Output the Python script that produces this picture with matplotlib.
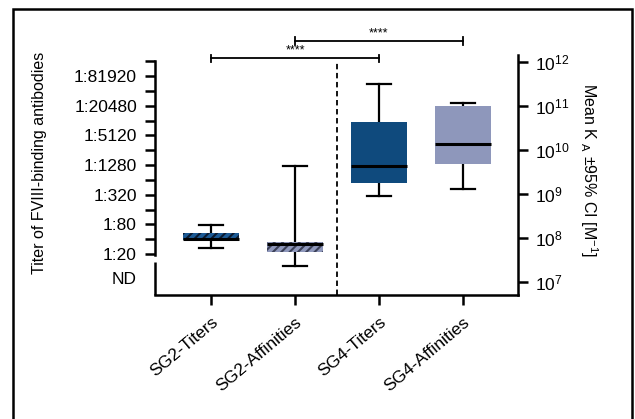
import matplotlib
matplotlib.use("Agg")
import matplotlib.pyplot as plt
from matplotlib import font_manager
from matplotlib.patches import Rectangle
from matplotlib.ticker import FixedLocator, NullFormatter

# ---- data ----
groups = ["SG2-Titers", "SG2-Affinities", "SG4-Titers", "SG4-Affinities"]

# titer boxes (reciprocal dilution), left axis
titer_pos = [0, 2]
titer_whislo = [27, 305]
titer_q1 = [38, 545]
titer_med = [40, 1220]
titer_q3 = [53, 9400]
titer_whishi = [78, 55600]

# affinity boxes (K_A, M^-1), right axis
aff_pos = [1, 3]
aff_whislo = [2.3e7, 1.3e9]
aff_q1 = [4.8e7, 4.8e9]
aff_med = [7.2e7, 1.34e10]
aff_q3 = [8.1e7, 9.8e10]
aff_whishi = [4.3e9, 1.12e11]

titer_ticks = [20, 80, 320, 1280, 5120, 20480, 81920]
titer_minor = [40, 160, 640, 2560, 10240, 40960, 163840]
nd_level = 6.5
ka_ticks = [1e7, 1e8, 1e9, 1e10, 1e11, 1e12]

brackets = [(0, 2, "****"), (1, 3, "****")]

fill_titer = ["#1c5a95", "#0f4a7d"]
hatch_titer = ["#0a1a30", None]
fill_aff = ["#8e97bb", "#8e97bb"]
hatch_aff = ["#3b4058", None]

# ---- fonts ----
names = {f.name for f in font_manager.fontManager.ttflist}
narrow = "Liberation Sans Narrow" if "Liberation Sans Narrow" in names else "Liberation Sans"
plt.rcParams["font.family"] = ["Liberation Sans", "DejaVu Sans"]
plt.rcParams["mathtext.fontset"] = "custom"
plt.rcParams["mathtext.rm"] = "Liberation Sans"
plt.rcParams["mathtext.it"] = "Liberation Sans"
plt.rcParams["hatch.linewidth"] = 1.5

fig = plt.figure(figsize=(6.35, 4.19), dpi=100)
ax = fig.add_axes([0.2441, 0.2959, 0.5716, 0.5728])
ax2 = ax.twinx()

# outer frame (open at the bottom)
fig.patches.append(Rectangle((0.0205, -0.1), 0.974, 1.0785, transform=fig.transFigure,
                             fill=False, edgecolor="black", lw=1.8, zorder=0))


def stats(pos, lo, q1, med, q3, hi):
    return [dict(whislo=lo[i], q1=q1[i], med=med[i], q3=q3[i], whishi=hi[i], fliers=[])
            for i in range(len(pos))]


def draw(axis, pos, st, fills, hatches):
    bp = axis.bxp(st, positions=pos, widths=0.66, patch_artist=True, showfliers=False,
                  capwidths=0.29,
                  medianprops=dict(color="black", lw=2.2),
                  whiskerprops=dict(color="black", lw=1.6),
                  capprops=dict(color="black", lw=1.6),
                  boxprops=dict(lw=0))
    for b, fc, hc in zip(bp["boxes"], fills, hatches):
        b.set_facecolor(fc)
        if hc is not None:
            b.set_edgecolor(hc)
            b.set_hatch("////")
        else:
            b.set_edgecolor(fc)
        b.set_linewidth(0)
        b.set_zorder(2)
    for w in bp["whiskers"] + bp["caps"]:
        w.set_zorder(1)
    for m in bp["medians"]:
        m.set_zorder(3)


ax.set_yscale("log", base=2)
ax.set_ylim(2.94, 219000)
ax2.set_yscale("log")
ax2.set_ylim(10 ** 6.70, 10 ** 12.148)
ax.set_xlim(-0.667, 3.655)

draw(ax, titer_pos, stats(titer_pos, titer_whislo, titer_q1, titer_med, titer_q3, titer_whishi),
     fill_titer, hatch_titer)
draw(ax2, aff_pos, stats(aff_pos, aff_whislo, aff_q1, aff_med, aff_q3, aff_whishi),
     fill_aff, hatch_aff)

# left axis ticks
ax.yaxis.set_major_locator(FixedLocator(titer_ticks + [nd_level]))
ax.set_yticklabels(["1:%d" % t for t in titer_ticks] + ["ND"])
ax.yaxis.set_minor_locator(FixedLocator(titer_minor))
ax.yaxis.set_minor_formatter(NullFormatter())
ax.tick_params(axis="y", which="both", direction="out", length=7, width=1.8, labelsize=12.5, pad=6)
ax.yaxis.get_major_ticks()[-1].tick1line.set_visible(False)

# broken left spine
ax.spines["left"].set_bounds(19.5, 163840)
ax.plot([0, 0], [13.8, 2.94], transform=ax.get_yaxis_transform(), color="black",
        lw=1.8, clip_on=False, solid_capstyle="butt")
for s in ["top", "right"]:
    ax.spines[s].set_visible(False)
ax.spines["left"].set_linewidth(1.8)
ax.spines["bottom"].set_linewidth(1.8)

# right axis
for s in ["top", "left", "bottom"]:
    ax2.spines[s].set_visible(False)
ax2.spines["right"].set_linewidth(1.8)
ax2.set_yticks(ka_ticks)
ax2.set_yticklabels([r"$10^{%d}$" % e for e in range(7, 13)])
ax2.yaxis.set_minor_locator(FixedLocator([]))
ax2.tick_params(axis="y", direction="out", length=7, width=1.8, labelsize=12.5, pad=5)

# x axis
ax.set_xticks(range(len(groups)))
ax.set_xticklabels(groups, rotation=40, ha="right", rotation_mode="anchor")
ax.tick_params(axis="x", direction="out", length=7, width=1.8, labelsize=12.5, pad=7)

# separator
ax.axvline(1.5, ymin=0, ymax=0.972, color="black", lw=1.3, ls=(0, (3, 2)))

# significance brackets
trans = ax.get_xaxis_transform()
for k, (a, b, lab) in enumerate(brackets):
    y = 0.986 + 0.072 * k
    ax.plot([a, b], [y, y], transform=trans, color="black", lw=1.3, clip_on=False)
    for xe in (a, b):
        ax.plot([xe, xe], [y - 0.015, y + 0.015], transform=trans, color="black", lw=1.3,
                clip_on=False)
    ax.text((a + b) / 2, y + 0.008, lab, transform=trans, ha="center", va="bottom",
            fontsize=9, clip_on=False)

# axis labels
ax.text(-0.317, 0.55, "Titer of FVIII-binding antibodies", transform=ax.transAxes,
        rotation=90, ha="center", va="center", fontsize=11.5, family=[narrow, "DejaVu Sans"])
ax.text(1.196, 0.52, r"Mean K $_{A}$ $\pm$95% CI [M$^{-1}$]", transform=ax.transAxes,
        rotation=270, ha="center", va="center", fontsize=11.5, family=[narrow, "DejaVu Sans"])

fig.savefig("out.png", dpi=100)
